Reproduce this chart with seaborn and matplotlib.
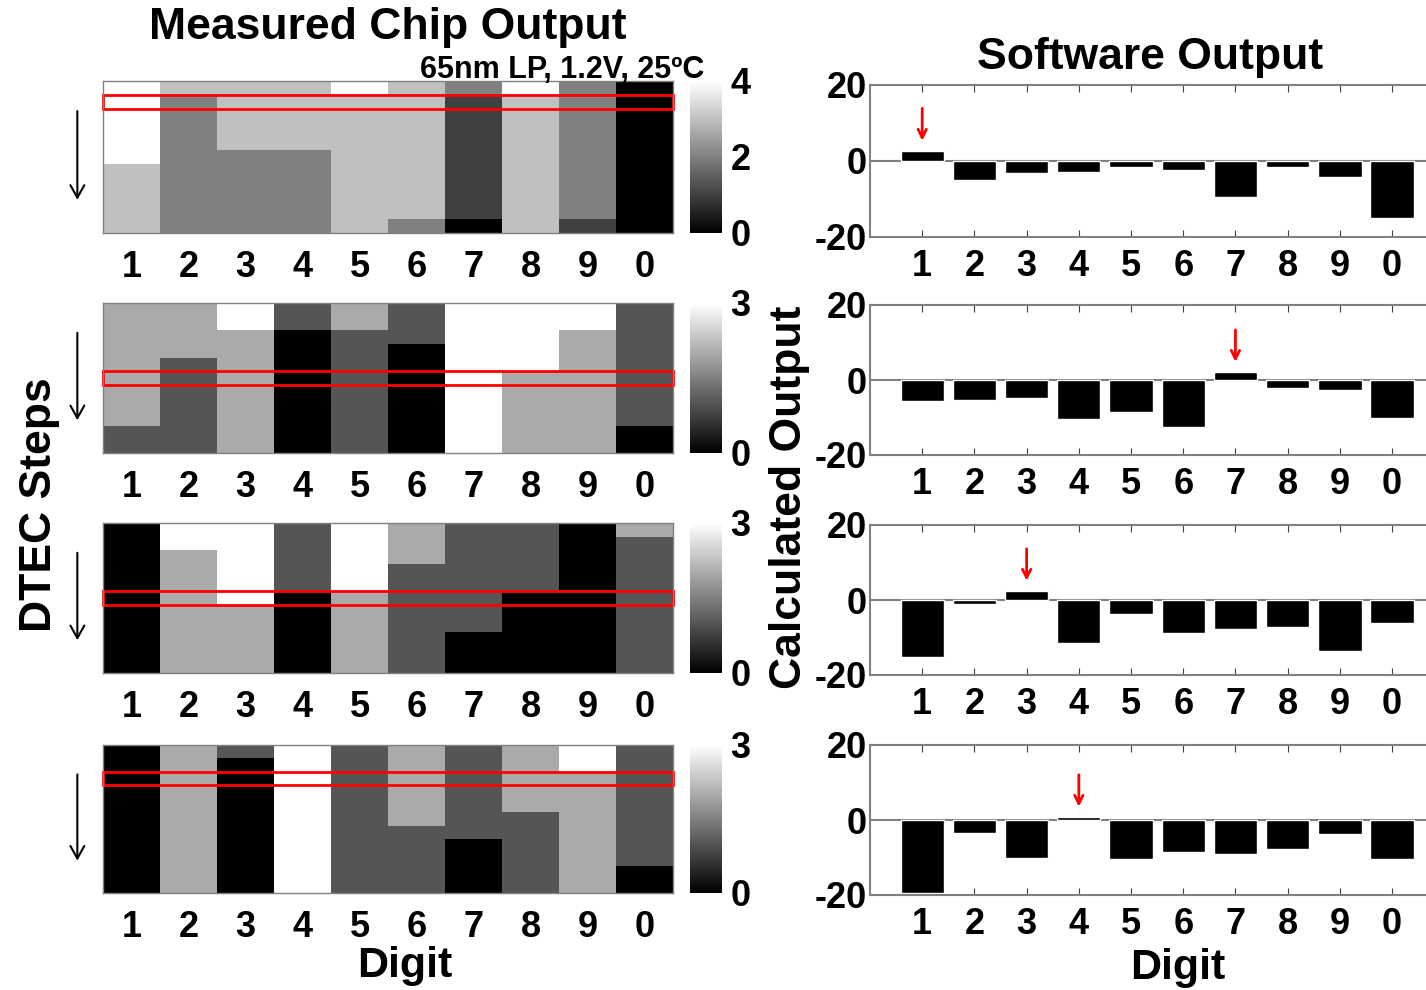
import numpy as np
import seaborn as sns
import matplotlib.pyplot as plt
from matplotlib.patches import Rectangle

# digit order used on every x axis
digits = ["1", "2", "3", "4", "5", "6", "7", "8", "9", "0"]

# measured chip output, 11 DTEC steps (rows) x 10 digits (cols)
chip_a = [
    [4, 3, 3, 3, 4, 3, 2, 4, 2, 0],
    [4, 2, 3, 3, 3, 3, 1, 3, 2, 0],
    [4, 2, 3, 3, 3, 3, 1, 3, 2, 0],
    [4, 2, 3, 3, 3, 3, 1, 3, 2, 0],
    [4, 2, 3, 3, 3, 3, 1, 3, 2, 0],
    [4, 2, 2, 2, 3, 3, 1, 3, 2, 0],
    [3, 2, 2, 2, 3, 3, 1, 3, 2, 0],
    [3, 2, 2, 2, 3, 3, 1, 3, 2, 0],
    [3, 2, 2, 2, 3, 3, 1, 3, 2, 0],
    [3, 2, 2, 2, 3, 3, 1, 3, 2, 0],
    [3, 2, 2, 2, 3, 2, 0, 3, 1, 0],
]
chip_b = [
    [2, 2, 3, 1, 2, 1, 3, 3, 3, 1],
    [2, 2, 3, 1, 2, 1, 3, 3, 3, 1],
    [2, 2, 2, 0, 1, 1, 3, 3, 2, 1],
    [2, 2, 2, 0, 1, 0, 3, 3, 2, 1],
    [2, 1, 2, 0, 1, 0, 3, 3, 2, 1],
    [2, 1, 2, 0, 1, 0, 3, 2, 2, 1],
    [2, 1, 2, 0, 1, 0, 3, 2, 2, 1],
    [2, 1, 2, 0, 1, 0, 3, 2, 2, 1],
    [2, 1, 2, 0, 1, 0, 3, 2, 2, 1],
    [1, 1, 2, 0, 1, 0, 3, 2, 2, 0],
    [1, 1, 2, 0, 1, 0, 3, 2, 2, 0],
]
chip_c = [
    [0, 3, 3, 1, 3, 2, 1, 1, 0, 2],
    [0, 3, 3, 1, 3, 2, 1, 1, 0, 1],
    [0, 2, 3, 1, 3, 2, 1, 1, 0, 1],
    [0, 2, 3, 1, 3, 1, 1, 1, 0, 1],
    [0, 2, 3, 1, 3, 1, 1, 1, 0, 1],
    [0, 2, 3, 0, 2, 1, 1, 0, 0, 1],
    [0, 2, 2, 0, 2, 1, 1, 0, 0, 1],
    [0, 2, 2, 0, 2, 1, 1, 0, 0, 1],
    [0, 2, 2, 0, 2, 1, 0, 0, 0, 1],
    [0, 2, 2, 0, 2, 1, 0, 0, 0, 1],
    [0, 2, 2, 0, 2, 1, 0, 0, 0, 1],
]
chip_d = [
    [0, 2, 1, 3, 1, 2, 1, 2, 3, 1],
    [0, 2, 0, 3, 1, 2, 1, 2, 3, 1],
    [0, 2, 0, 3, 1, 2, 1, 2, 2, 1],
    [0, 2, 0, 3, 1, 2, 1, 2, 2, 1],
    [0, 2, 0, 3, 1, 2, 1, 2, 2, 1],
    [0, 2, 0, 3, 1, 2, 1, 1, 2, 1],
    [0, 2, 0, 3, 1, 1, 1, 1, 2, 1],
    [0, 2, 0, 3, 1, 1, 0, 1, 2, 1],
    [0, 2, 0, 3, 1, 1, 0, 1, 2, 1],
    [0, 2, 0, 3, 1, 1, 0, 1, 2, 0],
    [0, 2, 0, 3, 1, 1, 0, 1, 2, 0],
]
chip_vmax = [4, 3, 3, 3]
chip_ticks = [[0, 2, 4], [0, 3], [0, 3], [0, 3]]
highlight_row = [1, 5, 5, 2]

# software output per digit
soft_a = [2.6, -5.0, -3.2, -2.9, -1.6, -2.3, -9.6, -1.6, -4.1, -15.0]
soft_b = [-5.6, -5.2, -4.7, -10.4, -8.6, -12.5, 2.1, -2.1, -2.6, -10.0]
soft_c = [-15.3, -1.1, 2.4, -11.5, -3.6, -8.9, -7.6, -7.1, -13.6, -6.2]
soft_d = [-19.4, -3.4, -10.0, 0.8, -10.4, -8.6, -9.1, -7.7, -3.8, -10.3]

sns.set_style("white")
plt.rcParams["font.family"] = ["Liberation Sans", "DejaVu Sans"]
plt.rcParams["font.weight"] = "bold"
plt.rcParams["text.color"] = "black"
plt.rcParams["xtick.color"] = "black"
plt.rcParams["ytick.color"] = "black"
plt.rcParams["axes.unicode_minus"] = False

W, H = 1426, 990
fig = plt.figure(figsize=(W / 100, H / 100), dpi=100)


def px_axes(x0, y0, x1, y1):
    return fig.add_axes([x0 / W, 1 - y1 / H, (x1 - x0) / W, (y1 - y0) / H])


heat_y = [(81, 233), (303, 453), (523, 673), (745, 893)]
bar_y = [(85, 237), (305, 455), (525, 675), (745, 895)]
edge = "#808080"

for i, mat in enumerate([chip_a, chip_b, chip_c, chip_d]):
    y0, y1 = heat_y[i]
    ax = px_axes(103, y0, 673, y1)
    cax = px_axes(690, y0, 722, y1)
    sns.heatmap(np.array(mat), ax=ax, cbar_ax=cax, cmap="gray", vmin=0, vmax=chip_vmax[i],
                xticklabels=digits, yticklabels=False)
    ax.set_yticks(np.arange(1, 11, 2) + 0.5)
    ax.tick_params(axis="x", direction="in", top=True, bottom=True, length=4,
                   color="#404040", labelsize=26, pad=12, rotation=0, labelcolor="black")
    ax.tick_params(axis="y", direction="in", left=True, right=True, length=4,
                   color="#404040", labelleft=False)
    for lbl in ax.get_xticklabels():
        lbl.set_fontweight("bold")
    for s in ax.spines.values():
        s.set_visible(True)
        s.set_color(edge)
        s.set_linewidth(1)
    ax.add_patch(Rectangle((0, highlight_row[i]), 10, 1, fill=False,
                           edgecolor="red", lw=2, clip_on=False))
    ax.annotate("", xy=(-0.045, 0.2), xytext=(-0.045, 0.82), xycoords="axes fraction",
                arrowprops=dict(arrowstyle="->,head_width=0.5,head_length=0.9",
                                color="black", lw=1.5))
    cax.set_yticks(chip_ticks[i])
    cax.tick_params(axis="y", length=0, labelsize=26, pad=6, labelcolor="black")
    for lbl in cax.get_yticklabels():
        lbl.set_fontweight("bold")
    cbar = ax.collections[0].colorbar
    if cbar is not None:
        cbar.outline.set_edgecolor(edge)

for i, vals in enumerate([soft_a, soft_b, soft_c, soft_d]):
    y0, y1 = bar_y[i]
    ax = px_axes(870, y0, 1426, y1)
    sns.barplot(x=digits, y=vals, order=digits, color="black", width=0.83,
                saturation=1, ax=ax)
    ax.set_xlim(-1, 9.65)
    ax.set_ylim(-20, 20)
    ax.set_yticks([-20, 0, 20])
    ax.axhline(0, color=edge, lw=1.5, zorder=0)
    for name in ["top", "bottom", "left"]:
        ax.spines[name].set_color(edge)
        ax.spines[name].set_linewidth(1.5)
    ax.spines["right"].set_visible(False)
    ax.tick_params(axis="x", direction="in", top=True, bottom=True, length=5,
                   color="#404040", labelsize=26, pad=9, labelcolor="black")
    ax.tick_params(axis="y", length=0, labelsize=26, pad=2, labelcolor="black")
    for lbl in ax.get_xticklabels() + ax.get_yticklabels():
        lbl.set_fontweight("bold")
    win = int(np.argmax(vals))
    ax.annotate("", xy=(win, vals[win] + 2), xytext=(win, vals[win] + 12),
                arrowprops=dict(arrowstyle="->,head_width=0.3,head_length=0.6",
                                color="red", lw=2))

fig.text(388 / W, 1 - 28 / H, "Measured Chip Output", fontsize=32, fontweight="bold",
         ha="center", va="center")
fig.text(562 / W, 1 - 70 / H, "65nm LP, 1.2V, 25ºC", fontsize=22, fontweight="bold",
         ha="center", va="center")
fig.text(1150 / W, 1 - 58 / H, "Software Output", fontsize=32, fontweight="bold",
         ha="center", va="center")
fig.text(40 / W, 1 - 505 / H, "DTEC Steps", fontsize=32, fontweight="bold",
         rotation=90, ha="center", va="center")
fig.text(790 / W, 1 - 497 / H, "Calculated Output", fontsize=32, fontweight="bold",
         rotation=90, ha="center", va="center")
fig.text(405 / W, 1 - 966 / H, "Digit", fontsize=31, fontweight="bold",
         ha="center", va="center")
fig.text(1178 / W, 1 - 968 / H, "Digit", fontsize=31, fontweight="bold",
         ha="center", va="center")

fig.savefig("out.png", dpi=100)
